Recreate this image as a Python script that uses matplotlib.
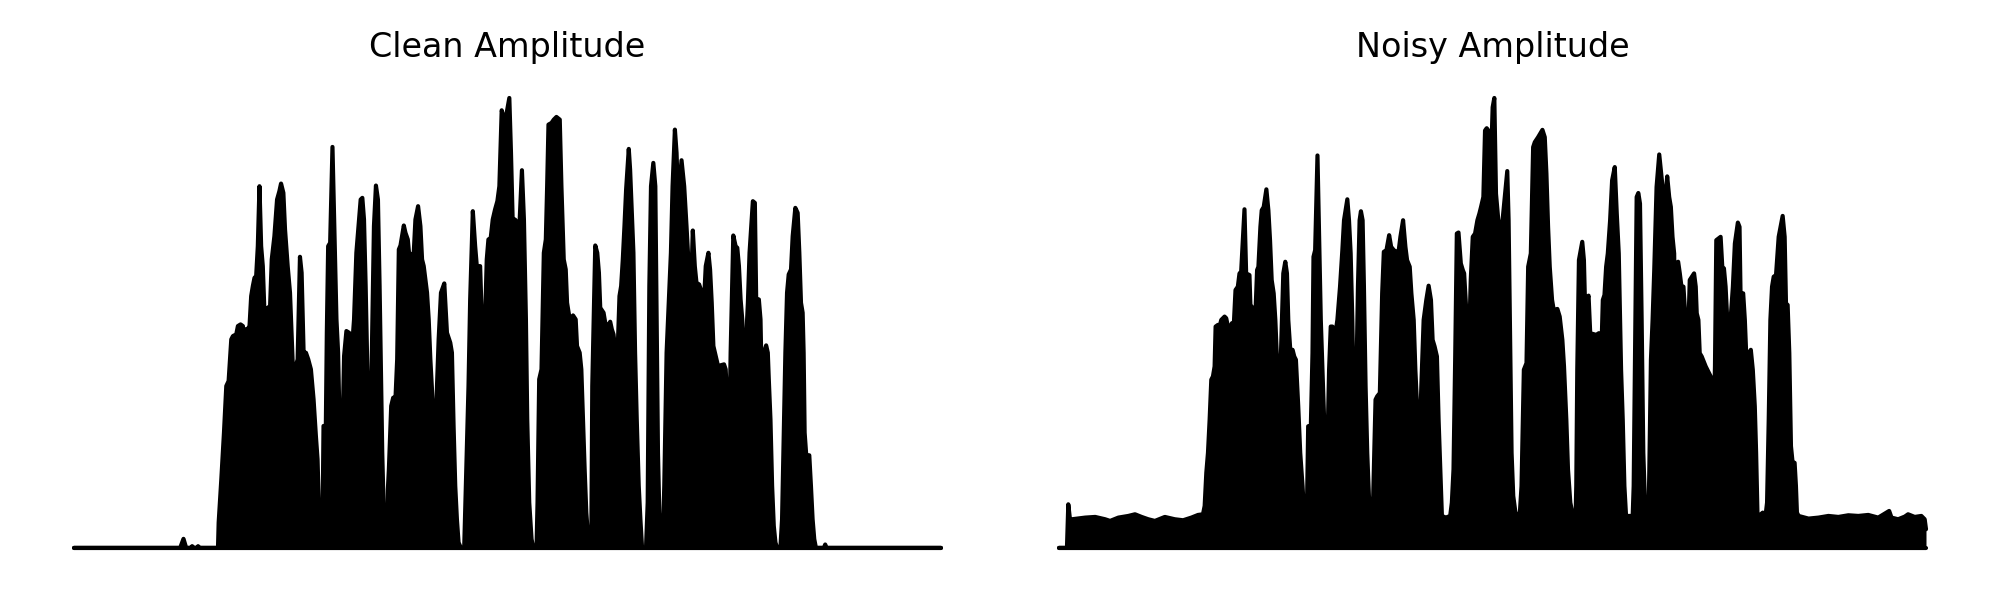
import matplotlib
matplotlib.use("Agg")
import matplotlib.pyplot as plt
import numpy as np

# Envelope of the amplitude signals (frame index, amplitude in arbitrary units)
clean_time = [0, 320, 330, 338, 352, 356, 362, 370, 374, 378, 434, 436, 444, 452, 459, 466, 474, 479, 489, 494,
              502, 509, 512, 517, 524, 529, 534, 539, 544, 549, 554, 559, 564, 569, 574, 579, 584, 591, 596, 604,
              612, 619, 624, 631, 636, 644, 651, 656, 661, 666, 674, 681, 686, 692, 699, 706, 714, 722, 729, 734,
              739, 744, 749, 752, 759, 762, 766, 772, 779, 784, 791, 796, 800, 804, 809, 814, 821, 829, 839, 844,
              851, 859, 864, 869, 874, 879, 884, 889, 892, 896, 901, 904, 910, 916, 921, 926, 929, 934, 939, 944,
              946, 949, 956, 962, 969, 974, 979, 984, 994, 999, 1006, 1011, 1016, 1024, 1029, 1037, 1044, 1049,
              1054, 1064, 1069, 1074, 1081, 1084, 1089, 1094, 1099, 1106, 1116, 1124, 1134, 1139, 1144, 1149,
              1154, 1159, 1166, 1176, 1181, 1189, 1194, 1202, 1209, 1214, 1224, 1229, 1234, 1239, 1244, 1249,
              1256, 1262, 1269, 1276, 1282, 1289, 1296, 1301, 1312, 1317, 1322, 1329, 1336, 1341, 1350, 1356,
              1362, 1366, 1372, 1379, 1384, 1394, 1397, 1402, 1409, 1416, 1422, 1426, 1430, 1439, 1446, 1454,
              1464, 1469, 1476, 1482, 1486, 1494, 1504, 1512, 1516, 1524, 1529, 1534, 1539, 1544, 1549, 1554,
              1559, 1562, 1571, 1577, 1582, 1586, 1596, 1601, 1609, 1616, 1621, 1626, 1631, 1634, 1639, 1644,
              1649, 1654, 1659, 1664, 1672, 1676, 1682, 1686, 1691, 1696, 1702, 1707, 1712, 1724, 1729, 1734,
              1739, 1746, 1752, 1756, 1760, 1764, 1769, 1774, 1779, 1786, 1794, 1799, 1804, 1811, 1816, 1821,
              1831, 1839, 1846, 1852, 1857, 1865, 1871, 1876, 1884, 1889, 1894, 1899, 1904, 1912, 1917, 1922,
              1927, 1934, 1941, 1959, 1964, 1969, 1974, 1979, 1987, 1994, 1999, 2004, 2009, 2014, 2019, 2024,
              2031, 2036, 2046, 2052, 2056, 2064, 2069, 2074, 2079, 2086, 2091, 2094, 2099, 2104, 2109, 2114,
              2119, 2129, 2134, 2139, 2144, 2149, 2154, 2161, 2166, 2174, 2181, 2186, 2191, 2196, 2199, 2202,
              2207, 2216, 2221, 2226, 2231, 2236, 2260, 2264, 2268, 2613]
clean_amp = [0, 0, 27, 0, 0, 5, 0, 0, 5, 0, 0, 76, 206, 346, 486, 501, 626, 636, 641, 666,
             671, 666, 621, 656, 658, 666, 756, 786, 811, 816, 906, 1086, 906, 846, 706, 701, 721, 726, 866, 936,
             1046, 1071, 1094, 1066, 956, 846, 766, 636, 506, 536, 566, 874, 826, 586, 586, 566, 536, 446, 336, 266,
             86, 0, 66, 366, 366, 646, 906, 916, 1204, 986, 686, 586, 386, 241, 336, 576, 651, 646, 616, 686,
             886, 986, 1046, 1051, 986, 786, 536, 286, 226, 486, 786, 966, 1088, 1046, 786, 486, 286, 86, 41, 41,
             176, 236, 426, 451, 451, 566, 896, 908, 968, 946, 926, 871, 881, 886, 986, 1026, 966, 866,
             846, 766, 686, 566, 436, 356, 286, 486, 626, 766, 794, 646, 616, 586, 366, 186,
             86, 16, 0, 0, 186, 486, 746, 1011, 906, 846, 846, 686, 626, 686, 866, 926,
             931, 986, 1016, 1041, 1086, 1314, 1289, 1289, 1351, 1186, 986, 986, 976, 936, 1134, 986,
             686, 386, 136, 26, 0, 0, 136, 506, 536, 886, 926, 1086, 1271, 1276, 1286, 1294,
             1286, 1086, 866, 836, 736, 686, 698, 686, 606, 586, 536, 386, 236, 106, 36, 0,
             0, 486, 908, 886, 826, 721, 706, 676, 666, 679, 656, 641, 596, 566, 606, 756,
             786, 866, 966, 1076, 1198, 1136, 986, 886, 586, 386, 186, 86, 0, 0, 136, 786,
             1086, 1156, 1086, 686, 286, 106, 0, 0, 186, 586, 766, 886, 1086, 1256, 1186, 1036,
             1164, 1086, 966, 856, 686, 953, 846, 796, 791, 776, 566, 746, 846, 886, 836, 736,
             606, 576, 546, 551, 536, 436, 261, 586, 938, 906, 901, 846, 746, 686, 526, 586,
             736, 886, 1041, 1036, 746, 746, 686, 426, 586, 608, 586, 506, 386, 186, 66, 16,
             0, 0, 86, 336, 586, 766, 821, 836, 936, 1021, 1006, 886, 736, 706, 586, 346,
             276, 278, 186, 86, 26, 0, 0, 10, 0, 0]

noisy_time = [0, 24, 28, 33, 39, 79, 109, 139, 154, 179, 209, 229, 249, 269, 289, 319, 349, 374, 399, 419,
              434, 439, 444, 449, 454, 459, 464, 469, 472, 479, 484, 489, 494, 499, 504, 509, 512, 517, 521, 527,
              532, 539, 544, 549, 559, 564, 574, 577, 581, 584, 591, 597, 601, 607, 611, 617, 625, 631, 636, 641,
              647, 652, 659, 664, 669, 676, 682, 687, 691, 697, 704, 709, 714, 721, 727, 734, 739, 747, 751, 759,
              764, 767, 772, 779, 784, 789, 794, 799, 804, 809, 814, 819, 824, 834, 839, 847, 854, 859, 869, 874,
              879, 884, 889, 891, 896, 901, 906, 910, 915, 919, 924, 929, 934, 939, 944, 947, 954, 959, 967, 974,
              979, 987, 995, 1001, 1009, 1017, 1024, 1029, 1037, 1044, 1049, 1057, 1062, 1069, 1074, 1081, 1087,
              1092, 1099, 1107, 1114, 1121, 1126, 1132, 1139, 1144, 1149, 1154, 1166, 1179, 1184, 1189, 1194,
              1199, 1204, 1211, 1217, 1221, 1229, 1237, 1241, 1247, 1254, 1261, 1267, 1272, 1279, 1284, 1289,
              1294, 1299, 1307, 1312, 1317, 1324, 1329, 1334, 1351, 1355, 1359, 1364, 1369, 1377, 1389, 1394,
              1401, 1409, 1414, 1422, 1429, 1434, 1444, 1457, 1464, 1469, 1474, 1479, 1486, 1491, 1502, 1509,
              1517, 1522, 1529, 1534, 1541, 1549, 1557, 1559, 1562, 1567, 1577, 1582, 1586, 1591, 1596, 1601,
              1619, 1627, 1634, 1639, 1644, 1649, 1654, 1661, 1667, 1675, 1681, 1687, 1694, 1699, 1704, 1709,
              1729, 1732, 1737, 1741, 1746, 1751, 1756, 1761, 1767, 1777, 1779, 1784, 1789, 1794, 1801, 1809,
              1819, 1824, 1833, 1839, 1844, 1849, 1854, 1857, 1861, 1866, 1871, 1876, 1882, 1887, 1892, 1897,
              1901, 1914, 1919, 1922, 1927, 1931, 1937, 1949, 1964, 1969, 1972, 1977, 1981, 1994, 1999, 2004,
              2009, 2014, 2019, 2024, 2031, 2037, 2046, 2051, 2054, 2062, 2067, 2071, 2074, 2079, 2085, 2091,
              2097, 2101, 2105, 2109, 2121, 2129, 2134, 2139, 2144, 2149, 2154, 2161, 2169, 2181, 2187, 2191,
              2196, 2201, 2206, 2211, 2217, 2221, 2224, 2229, 2259, 2289, 2319, 2349, 2379, 2409, 2439, 2469,
              2502, 2509, 2529, 2549, 2559, 2579, 2599, 2609, 2613]
noisy_amp = [0, 0, 131, 86, 86, 91, 93, 86, 81, 91, 96, 101, 93, 86, 81, 93, 86, 83, 91, 99,
             101, 126, 226, 286, 386, 506, 516, 546, 666, 671, 666, 686, 691, 696, 691, 666, 611, 666, 676, 674,
             776, 786, 826, 831, 1019, 826, 821, 726, 726, 681, 676, 836, 846, 966, 1016, 1026, 1079, 1016, 926, 806,
             766, 686, 516, 506, 586, 826, 861, 826, 686, 596, 596, 576, 566, 426, 286, 186, 96, 96, 366, 366,
             586, 876, 896, 1181, 936, 686, 536, 386, 301, 296, 536, 666, 666, 651, 686, 786, 896, 986, 1049, 986,
             886, 686, 386, 276, 486, 786, 986, 1013, 986, 786, 486, 286, 156, 91, 91, 156, 446, 456, 466, 766,
             891, 896, 941, 906, 896, 891, 896, 936, 986, 906, 866, 846, 766, 686, 536, 386, 311,
             486, 686, 746, 789, 746, 626, 606, 576, 386, 236, 96, 91, 96, 136, 236, 566,
             946, 949, 856, 836, 826, 686, 661, 806, 936, 946, 986, 1006, 1026, 1056, 1256, 1263,
             1256, 1066, 1326, 1354, 1066, 986, 976, 956, 1134, 986, 686, 286, 156, 96, 106, 186,
             536, 556, 846, 886, 1206, 1221, 1236, 1258, 1236, 1126, 966, 846, 746, 716, 719, 696,
             626, 546, 386, 236, 136, 96, 96, 186, 536, 866, 921, 866, 706, 746, 759, 646,
             641, 646, 566, 746, 761, 846, 886, 986, 1106, 1146, 1006, 886, 536, 386, 186, 96,
             96, 186, 686, 1056, 1068, 1036, 686, 286, 106, 106, 226, 566, 686, 836, 1086, 1184,
             1086, 1006, 1118, 1056, 1026, 936, 886, 646, 856, 861, 826, 786, 786, 706, 576, 666,
             806, 826, 786, 706, 686, 586, 576, 546, 516, 386, 311, 546, 926, 936, 846, 841,
             786, 686, 536, 686, 786, 916, 979, 966, 766, 766, 686, 586, 446, 586, 596, 536,
             426, 286, 106, 96, 106, 93, 136, 386, 686, 786, 816, 821, 936, 999, 936, 736,
             731, 586, 306, 256, 256, 186, 106, 96, 88, 91, 96, 93, 98, 96, 99, 91,
             111, 91, 86, 94, 101, 93, 96, 86, 56]

titles = ["Clean Amplitude", "Noisy Amplitude"]

fig = plt.figure(figsize=(10, 3), dpi=200)
positions = [[0.037, 0.0667, 0.4335, 0.8], [0.5295, 0.0667, 0.4335, 0.8]]
series = [(clean_time, clean_amp), (noisy_time, noisy_amp)]

for pos, (t, a), title in zip(positions, series, titles):
    ax = fig.add_axes(pos)
    t = np.asarray(t, dtype=float)
    a = np.asarray(a, dtype=float)
    ax.fill_between(t, 0, a, color="black", lw=0)
    ax.plot(t, a, color="black", lw=1.5, solid_joinstyle="round",
            solid_capstyle="round", clip_on=False)
    ax.plot([t[0], t[-1]], [0, 0], color="black", lw=1.5,
            solid_capstyle="round", clip_on=False)
    ax.set_xlim(t[0], t[-1])
    top = a.max()
    ax.set_ylim(-0.027 * top, 1.04 * top)
    ax.set_title(title, fontsize=12, pad=8.3)
    ax.axis("off")

fig.savefig("out.png", dpi=200)
